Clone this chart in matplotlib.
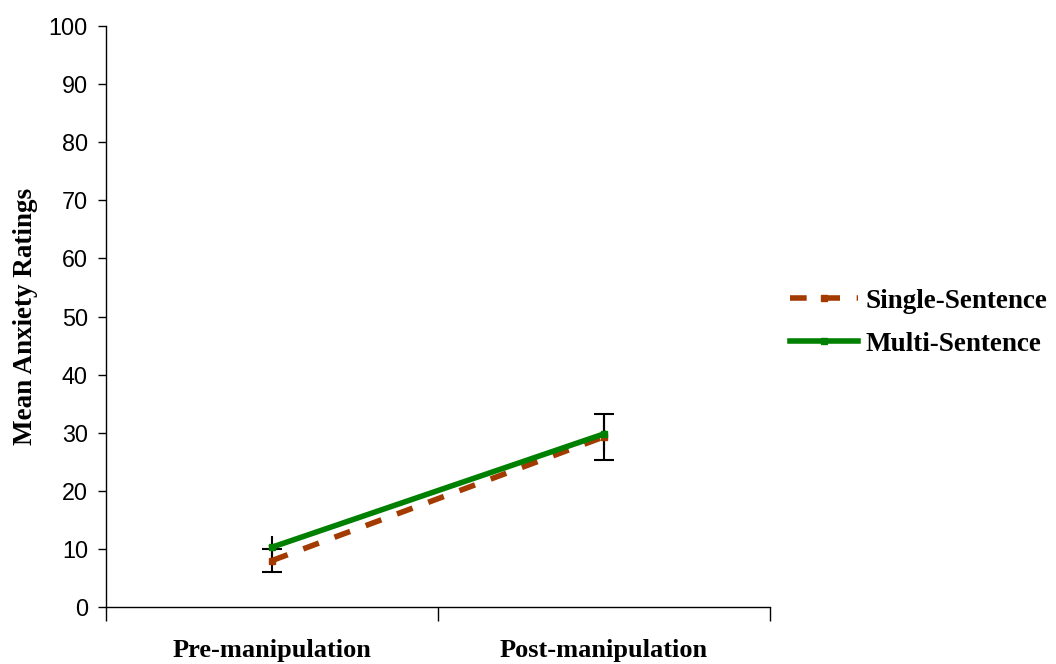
import matplotlib
matplotlib.use("Agg")
import matplotlib.pyplot as plt
from matplotlib.lines import Line2D

phases = ["Pre-manipulation", "Post-manipulation"]
single_mean = [8.0, 29.3]
single_err = [2.0, 4.0]
multi_mean = [10.3, 29.8]
multi_err = [1.9, 3.0]
y_ticks = list(range(0, 101, 10))

single_color = "#A33A00"
multi_color = "#008000"
serif = "Liberation Serif"
sans = "Liberation Sans"

fig = plt.figure(figsize=(10.56, 6.64), dpi=100)
ax = fig.add_axes([0.1004, 0.0858, 0.6288, 0.875])

x = list(range(len(phases)))

# error bars (single-sentence with caps, multi-sentence plain)
ax.errorbar(x, single_mean, yerr=single_err, fmt="none", ecolor="black",
            elinewidth=1.5, capsize=7, capthick=1.5, zorder=2)
ax.errorbar(x, multi_mean, yerr=multi_err, fmt="none", ecolor="black",
            elinewidth=1.5, capsize=0, zorder=2)

ax.plot(x, single_mean, color=single_color, linewidth=4, linestyle=(0, (3, 3)),
        marker="s", markersize=5, zorder=3)
ax.plot(x, multi_mean, color=multi_color, linewidth=4, linestyle="-",
        marker="s", markersize=5, zorder=4)

ax.set_xlim(-0.5, 1.5)
ax.set_ylim(0, 100)
ax.set_yticks(y_ticks)
ax.set_yticklabels([str(v) for v in y_ticks], fontfamily=sans, fontsize=16.8)
ax.tick_params(axis="y", direction="out", length=6, width=1, pad=7)

ax.set_xticks([-0.5, 0.5, 1.5])
ax.set_xticklabels([])
ax.tick_params(axis="x", direction="out", length=10, width=1)
for xi, lab in zip(x, phases):
    ax.text(xi, -0.074, lab, transform=ax.get_xaxis_transform(), ha="center",
            va="center", fontfamily=serif, fontweight="bold", fontsize=19)

ax.set_ylabel("Mean Anxiety Ratings", fontfamily=serif, fontweight="bold",
              fontsize=19.5, labelpad=8)

for side in ("top", "right"):
    ax.spines[side].set_visible(False)
for side in ("left", "bottom"):
    ax.spines[side].set_color("black")
    ax.spines[side].set_linewidth(1)

handles = [
    Line2D([], [], color=single_color, linewidth=4, linestyle=(0, (3, 3)),
           marker="s", markersize=5),
    Line2D([], [], color=multi_color, linewidth=4, linestyle="-",
           marker="s", markersize=5),
]
leg = fig.legend(handles, ["Single-Sentence", "Multi-Sentence"],
                 loc="center left", bbox_to_anchor=(0.725, 0.514),
                 frameon=False, handlelength=2.5, handletextpad=0.3,
                 labelspacing=0.65,
                 prop={"family": serif, "weight": "bold", "size": 19.5})

fig.savefig("out.png", dpi=100)
